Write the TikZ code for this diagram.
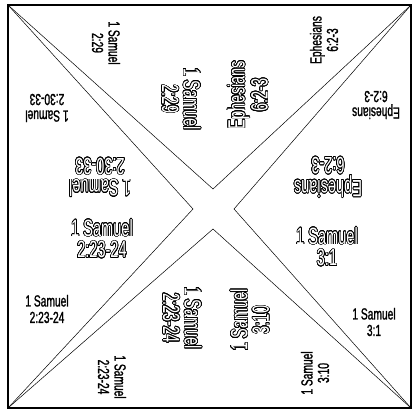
\documentclass[tikz,border=0pt]{standalone}
\usepackage{fontspec}
\usepackage{tikz}
\usepackage{contour}
\usetikzlibrary{positioning, calc}

\newfontfamily\narrowfont[FakeStretch=0.64, FakeBold=1.3]{Liberation Sans}
\newfontfamily\heavyfont[FakeStretch=0.62]{Liberation Sans}
\contourlength{0.65pt}
\contournumber{24}
\newcommand{\hollow}[1]{\contour{black}{#1}}

\begin{document}
\begin{tikzpicture}[
    x=1pt, y=-1pt,
    frame/.style={
        draw=black,
        line width=1.1pt
    },
    fold/.style={
        draw=black,
        line width=0.5pt,
        line join=miter
    },
    smalltext/.style={
        font=\narrowfont\fontsize{16}{16.5}\selectfont,
        align=center,
        inner sep=0pt
    },
    bigtext/.style={
        font=\heavyfont\fontsize{23.5}{21.5}\selectfont,
        text=white,
        align=center,
        inner sep=0pt
    }
]

\useasboundingbox (0,0) rectangle (412,414);

% ============================================================
% Square and fold lines
% ============================================================

\coordinate (TL) at (8,5);
\coordinate (TR) at (411,5);
\coordinate (BL) at (8,408);
\coordinate (BR) at (411,408);

\coordinate (apexT) at (213,189);
\coordinate (apexL) at (193,209);
\coordinate (apexR) at (234,209);
\coordinate (apexB) at (213,229);

\draw[frame] (TL) rectangle (BR);

\draw[fold] (TL) -- (apexT) -- (TR);
\draw[fold] (TL) -- (apexL) -- (BL);
\draw[fold] (TR) -- (apexR) -- (BR);
\draw[fold] (BL) -- (apexB) -- (BR);

% ============================================================
% Top flap
% ============================================================

\node[smalltext, rotate=-90] (samTopS) at (106,43) {1 Samuel\\2:29};
\node[smalltext, rotate=90]  (ephTopS) at (324,40) {Ephesians\\6:2-3};
\node[bigtext, rotate=-90]   (samTopB) at (181,99) {\hollow{1 Samuel}\\\hollow{2:29}};
\node[bigtext, rotate=90]    (ephTopB) at (248,95) {\hollow{Ephesians}\\\hollow{6:2-3}};

% ============================================================
% Left flap
% ============================================================

\node[smalltext, rotate=180] (samLeftS) at (47,108)  {1 Samuel\\2:30-33};
\node[bigtext, rotate=180]   (samLeftB) at (100,177) {\hollow{1 Samuel}\\\hollow{2:30-33}};
\node[bigtext]               (samLowB)  at (102,239) {\hollow{1 Samuel}\\\hollow{2:23-24}};
\node[smalltext]             (samLowS)  at (47,309)  {1 Samuel\\2:23-24};

% ============================================================
% Bottom flap
% ============================================================

\node[bigtext, rotate=-90]   (samBotB)  at (182,318) {\hollow{1 Samuel}\\\hollow{2:23-24}};
\node[smalltext, rotate=-90] (samBotS)  at (112,377) {1 Samuel\\2:23-24};
\node[bigtext, rotate=90]    (samTenB)  at (250,320) {\hollow{1 Samuel}\\\hollow{3:10}};
\node[smalltext, rotate=90]  (samTenS)  at (315,373) {1 Samuel\\3:10};

% ============================================================
% Right flap
% ============================================================

\node[bigtext, rotate=180]   (ephRightB) at (328,177) {\hollow{Ephesians}\\\hollow{6:2-3}};
\node[smalltext, rotate=180] (ephRightS) at (376,105) {Ephesians\\6:2-3};
\node[bigtext]               (samOneB)   at (327,247) {\hollow{1 Samuel}\\\hollow{3:1}};
\node[smalltext]             (samOneS)   at (374,322) {1 Samuel\\3:1};

\end{tikzpicture}
\end{document}
